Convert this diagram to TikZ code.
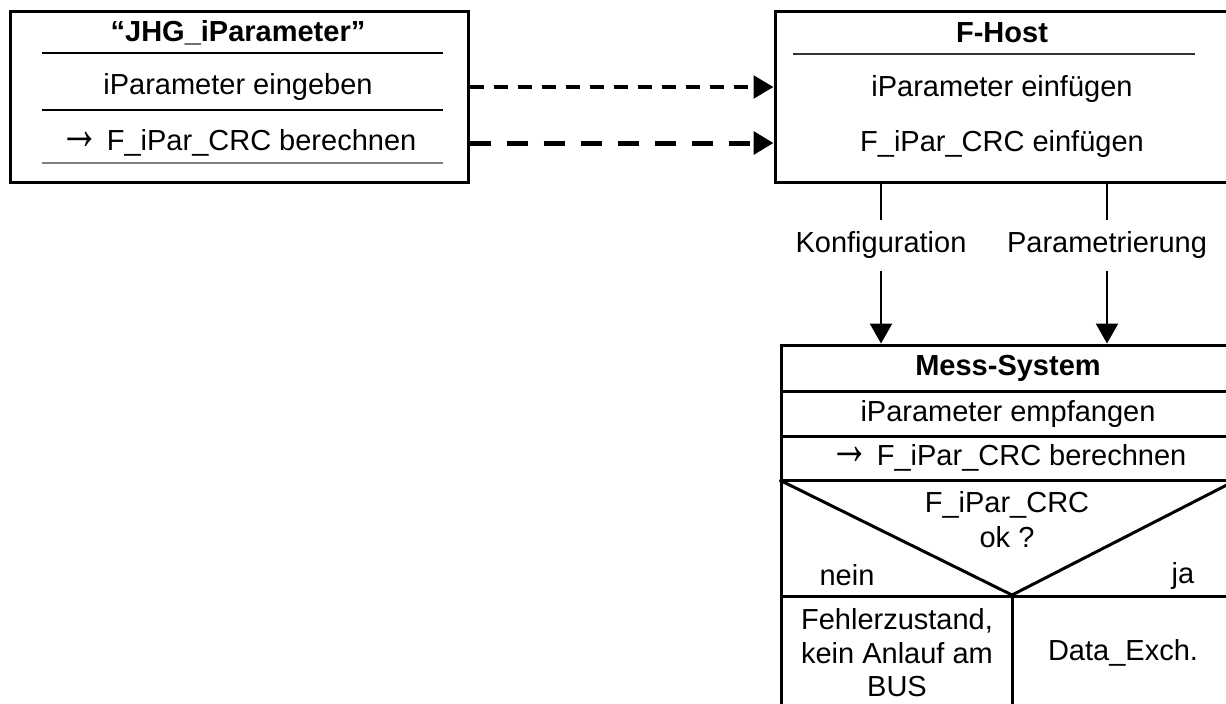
\documentclass[tikz,border=0pt]{standalone}
\usepackage{fontspec}
\setmainfont{Liberation Sans}
\newcommand\toarrow{\raisebox{0.04em}{\scalebox{1.4}[2.1]{→}}\kern-0.05em}
\usetikzlibrary{arrows.meta,positioning}
\tikzset{
  frame/.style={rectangle,draw=black,line width=1.2pt,inner sep=0pt},
  rule/.style={line width=1.2pt},
  txt/.style={font=\fontsize{11.6}{14}\selectfont,inner sep=1pt,align=center},
  ttl/.style={txt,font=\fontsize{11.6}{14}\selectfont\bfseries},
  lbl/.style={txt,inner sep=0pt,minimum height=20pt}
}
\tikzset{
  flow/.style={-{Triangle[length=8pt,width=8.8pt]},line width=1pt},
  dashthin/.style={-{Triangle[length=8pt,width=9pt]},line width=1.6pt,
    dash pattern=on 5.6pt off 4pt},
  dashthick/.style={-{Triangle[length=8pt,width=9pt]},line width=2pt,
    dash pattern=on 8.4pt off 6.4pt}
}
\begin{document}
\begin{tikzpicture}[x=0.4pt,y=-0.4pt]
\useasboundingbox (0,0) rectangle (1226,703);

\node[frame,minimum width=182.8pt,minimum height=68.4pt] (jhg) at (239.5,96.5) {};
\node[ttl] (jhg-t) at (238,33) {“JHG\_iParameter”};
\node[txt] (jhg-a) at (238,87) {iParameter eingeben};
\node[txt] (jhg-b) at (238,143) {\toarrow{} F\_iPar\_CRC berechnen};
\draw[line width=0.8pt] (42,53) -- (443,53);
\draw[line width=0.5pt] (42,110) -- (443,110);
\draw[line width=0.5pt,gray] (42,163) -- (443,163);

\node[frame,minimum width=181.6pt,minimum height=68.4pt] (fhost) at (1002,96.5) {};
\node[ttl] (fhost-t) at (1002,33) {F-Host};
\draw[line width=0.7pt,black!80] (793,54) -- (1195,54);
\node[txt] (fhost-a) at (1002,89) {iParameter einfügen};
\node[txt] (fhost-b) at (1002,144) {F\_iPar\_CRC einfügen};

\draw[dashthin] (jhg.east |- jhg-a) -- (fhost.west |- jhg-a);
\draw[dashthick] (jhg.east |- jhg-b) -- (fhost.west |- jhg-b);

\node[frame,minimum width=181.6pt,minimum height=150pt] (mess) at (1008,532.5) {};

\node[lbl] (konf) at (881,245) {Konfiguration};
\node[lbl] (para) at (1107,245) {Parametrierung};
\draw[line width=1pt] (fhost.south -| konf) -- (konf.north);
\draw[flow] (konf.south) -- (konf.south |- mess.north);
\draw[line width=1pt] (fhost.south -| para) -- (para.north);
\draw[flow] (para.south) -- (para.south |- mess.north);

\node[ttl] (mess-t) at (1008,368) {Mess-System};
\node[txt] (mess-a) at (1008,414) {iParameter empfangen};
\node[txt] (mess-b) at (1008,458) {\toarrow{} F\_iPar\_CRC berechnen};
\foreach \yy in {391,436,480,596}
  \draw[rule] (mess.west |- 0,\yy) -- (mess.east |- 0,\yy);

\coordinate (tip) at (1012,595);
\draw[rule] (mess.west |- 0,480) -- (tip) -- (mess.east |- 0,480);
\draw[rule] (tip) -- (mess.south -| tip);

\node[txt] (cond) at (1007,520) {F\_iPar\_CRC\\ok ?};
\node[txt] (nein) at (847,575) {nein};
\node[txt] (ja) at (1183,576) {ja};
\node[txt,font=\fontsize{11.6}{13.4}\selectfont] (fehler) at (897,653)
  {Fehlerzustand,\\kein Anlauf am\\BUS};
\node[txt] (exch) at (1123,653) {Data\_Exch.};

\end{tikzpicture}
\end{document}
